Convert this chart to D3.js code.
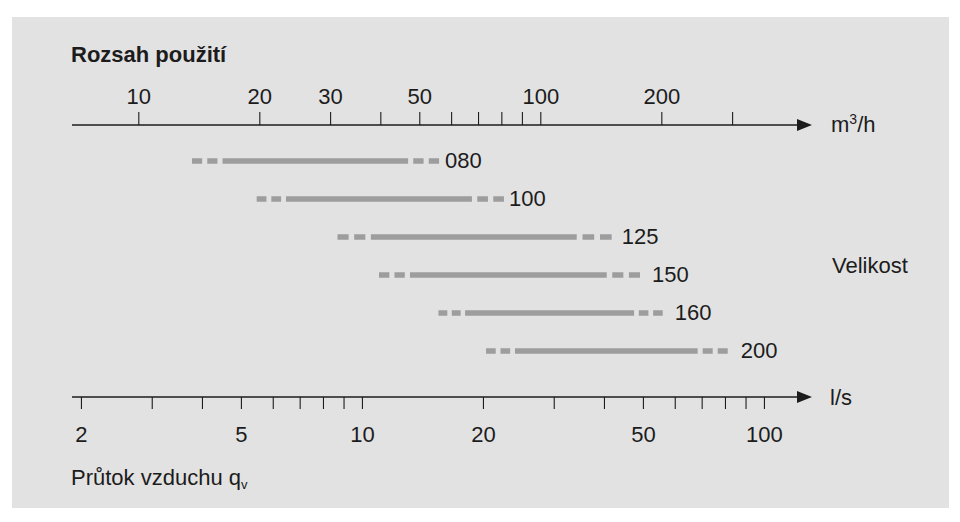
<!DOCTYPE html>
<html>
<head>
<meta charset="utf-8">
<script src="https://cdn.jsdelivr.net/npm/d3@7"></script>
<style>
  html, body { margin: 0; padding: 0; background: #ffffff; }
  svg { display: block; }
  text { font-family: "Liberation Sans", Arial, Helvetica, sans-serif; fill: #1c1c1c; }
</style>
</head>
<body>
<svg id="chart" width="960" height="522"></svg>
<script>
// ---- data ----
const sizes = ["080", "100", "125", "150", "160", "200"];
// flow ranges in m3/h: dashed start, solid start, solid end, dashed end
const dashStart  = [13.6, 19.7, 31.3, 39.7, 55.8, 73.3];
const solidStart = [16.2, 23.3, 37.9, 47.4, 65.0, 86.5];
const solidEnd   = [46.9, 67.6, 123.2, 146.3, 171.1, 246.3];
const dashEnd    = [56.0, 81.2, 150.5, 177.0, 201.6, 292.6];

const topTicks = [10, 20, 30, 40, 50, 60, 70, 80, 90, 100, 200, 300];   // m3/h
const topLabels = [10, 20, 30, 50, 100, 200];
const bottomTicks = [2, 3, 4, 5, 6, 7, 8, 9, 10, 20, 30, 40, 50, 60, 70, 80, 90, 100]; // l/s
const bottomLabels = [2, 5, 10, 20, 50, 100];

const title = "Rozsah použití";
const unitTopMain = "m";
const unitTopSup = "3";
const unitTopRest = "/h";
const unitBottom = "l/s";
const sizeTitle = "Velikost";
const flowTitle = "Průtok vzduchu q";
const flowSub = "v";

// ---- layout / style ----
const svg = d3.select("#chart");
const barColor = "#9d9d9d";
const inkColor = "#1c1c1c";
const labelGap = [6, 5, 10, 12, 12, 13]; // px between bar end and size label

svg.append("rect").attr("x", 12).attr("y", 17).attr("width", 937).attr("height", 491)
  .attr("fill", "#e2e2e2");

const xM = d3.scaleLog().domain([10, 100]).range([138.3, 540.3]);       // m3/h
const xL = d3.scaleLog().domain([10 / 3.6, 100 / 3.6]).range([138.3, 540.3]); // l/s
const y = d3.scalePoint().domain(sizes).range([161, 351]);

const axisStart = 72, arrowTip = 812, arrowLen = 15, arrowHalf = 6;
const topY = 125, botY = 397;

// title
svg.append("text").attr("x", 71).attr("y", 62).attr("font-size", 22).attr("font-weight", "bold")
  .text(title);

function drawArrowLine(yy) {
  svg.append("line").attr("x1", axisStart).attr("x2", arrowTip - arrowLen + 1)
    .attr("y1", yy).attr("y2", yy).attr("stroke", inkColor).attr("stroke-width", 1.4);
  svg.append("path")
    .attr("d", `M${arrowTip},${yy} L${arrowTip - arrowLen},${yy - arrowHalf} L${arrowTip - arrowLen},${yy + arrowHalf} Z`)
    .attr("fill", inkColor);
}

// top axis (m3/h)
const gTop = svg.append("g").attr("transform", `translate(0,${topY})`)
  .call(d3.axisTop(xM).tickValues(topTicks).tickSize(13).tickSizeOuter(0)
    .tickFormat(d => topLabels.includes(d) ? String(d) : ""));
gTop.select(".domain").remove();
gTop.selectAll(".tick line").attr("stroke", inkColor).attr("stroke-width", 1.1);
gTop.selectAll(".tick text").attr("y", -21).attr("dy", 0).attr("font-size", 22)
  .attr("font-family", "Liberation Sans, Arial, sans-serif").attr("fill", inkColor);
drawArrowLine(topY);
const ut = svg.append("text").attr("x", 831).attr("y", 132).attr("font-size", 22);
ut.append("tspan").text(unitTopMain);
ut.append("tspan").attr("font-size", 14).attr("dy", -8).text(unitTopSup);
ut.append("tspan").attr("dy", 8).text(unitTopRest);

// bottom axis (l/s)
const gBot = svg.append("g").attr("transform", `translate(0,${botY})`)
  .call(d3.axisBottom(xL).tickValues(bottomTicks).tickSize(12).tickSizeOuter(0)
    .tickFormat(d => bottomLabels.includes(d) ? String(d) : ""));
gBot.select(".domain").remove();
gBot.selectAll(".tick line").attr("stroke", inkColor).attr("stroke-width", 1.1);
gBot.selectAll(".tick text").attr("y", 45).attr("dy", 0).attr("font-size", 22)
  .attr("font-family", "Liberation Sans, Arial, sans-serif").attr("fill", inkColor);
drawArrowLine(botY);
svg.append("text").attr("x", 830).attr("y", 405).attr("font-size", 22).text(unitBottom);

// flow title with subscript
const ft = svg.append("text").attr("x", 71).attr("y", 485).attr("font-size", 22);
ft.append("tspan").text(flowTitle);
ft.append("tspan").attr("font-size", 13).attr("dy", 4).text(flowSub);

// size title
svg.append("text").attr("x", 832).attr("y", 273).attr("font-size", 22).text(sizeTitle);

// bars
const rows = sizes.map((s, i) => ({
  s, i, a: dashStart[i], b: solidStart[i], c: solidEnd[i], d: dashEnd[i]
}));
const g = svg.append("g");
rows.forEach(r => {
  const yy = y(r.s);
  const xa = xM(r.a), xb = xM(r.b), xc = xM(r.c), xd = xM(r.d);
  // left dashed: dash, gap, dash, gap
  const L1 = xb - xa;
  g.append("line").attr("x1", xa).attr("x2", xb).attr("y1", yy).attr("y2", yy)
    .attr("stroke", barColor).attr("stroke-width", 5.3)
    .attr("stroke-dasharray", `${L1 / 3} ${L1 / 6}`);
  // solid
  g.append("line").attr("x1", xb).attr("x2", xc).attr("y1", yy).attr("y2", yy)
    .attr("stroke", barColor).attr("stroke-width", 5.3);
  // right dashed drawn from the end back: dash, gap, dash, gap
  const L2 = xd - xc;
  g.append("line").attr("x1", xd).attr("x2", xc).attr("y1", yy).attr("y2", yy)
    .attr("stroke", barColor).attr("stroke-width", 5.3)
    .attr("stroke-dasharray", `${L2 / 3} ${L2 / 6}`);
  g.append("text").attr("x", xd + labelGap[r.i]).attr("y", yy + 7).attr("font-size", 22).text(r.s);
});
</script>
</body>
</html>
